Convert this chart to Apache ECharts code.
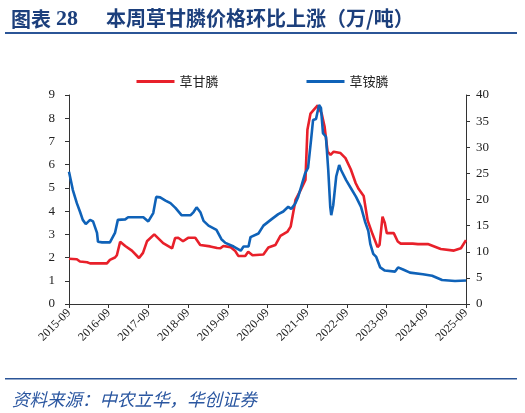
<!DOCTYPE html>
<html>
<head>
<meta charset="utf-8">
<script src="https://cdn.jsdelivr.net/npm/echarts@6/dist/echarts.min.js"></script>
<style>
html,body{margin:0;padding:0;background:#fff;}
#chart{width:525px;height:413px;}
</style>
</head>
<body>
<div id="chart"></div>
<script>
// ---- data ----
const xTickLabels = ['2015-09','2016-09','2017-09','2018-09','2019-09','2020-09','2021-09','2022-09','2023-09','2024-09','2025-09'];

// 草甘膦 (万/吨, left axis)
const glyDates = ['2015-09-01','2015-11-12','2015-12-10','2016-02-15','2016-03-12','2016-08-15','2016-09-12','2016-10-28','2016-11-15','2016-12-15','2017-02-01','2017-04-01','2017-06-06','2017-07-12','2017-08-18','2017-10-24','2018-01-15','2018-04-06','2018-05-03','2018-06-01','2018-07-15','2018-09-01','2018-11-06','2018-11-24','2018-12-21','2019-03-21','2019-05-24','2019-06-24','2019-07-21','2019-09-24','2019-11-09','2019-12-06','2020-02-09','2020-03-06','2020-04-15','2020-07-24','2020-09-09','2020-11-12','2020-12-28','2021-03-03','2021-04-01','2021-05-15','2021-07-01','2021-08-15','2021-09-03','2021-10-01','2021-10-28','2021-12-06','2022-01-12','2022-02-09','2022-02-27','2022-03-06','2022-04-03','2022-05-01','2022-07-03','2022-08-18','2022-10-06','2022-11-21','2022-12-18','2023-02-03','2023-03-09','2023-04-24','2023-06-09','2023-06-27','2023-07-24','2023-08-15','2023-09-03','2023-11-06','2023-12-12','2024-01-09','2024-04-28','2024-05-06','2024-06-15','2024-09-15','2025-01-12','2025-05-12','2025-07-15','2025-09-01'];
const glyValues = [1.95,1.93,1.83,1.80,1.75,1.75,1.90,2.00,2.10,2.68,2.50,2.30,1.98,2.20,2.70,3.00,2.62,2.40,2.84,2.85,2.70,2.85,2.85,2.82,2.54,2.48,2.41,2.40,2.50,2.45,2.28,2.07,2.07,2.25,2.10,2.13,2.43,2.54,2.93,3.12,3.33,4.48,4.90,5.34,7.50,8.20,8.35,8.55,8.20,7.63,7.60,6.56,6.42,6.56,6.50,6.28,5.80,5.20,4.95,4.65,3.60,3.00,2.45,2.55,3.76,3.49,3.05,3.05,2.69,2.60,2.60,2.68,2.58,2.58,2.37,2.30,2.40,2.75];

// 草铵膦 (万/吨, right axis)
const gluDates = ['2015-09-01','2015-10-06','2015-11-12','2015-12-10','2016-01-06','2016-02-03','2016-03-12','2016-04-09','2016-05-15','2016-05-24','2016-07-01','2016-09-12','2016-10-28','2016-11-24','2017-02-01','2017-02-27','2017-07-15','2017-08-30','2017-10-15','2017-11-12','2017-12-18','2018-02-06','2018-03-21','2018-05-06','2018-07-01','2018-09-24','2018-10-21','2018-11-18','2018-12-24','2019-01-21','2019-03-06','2019-05-18','2019-07-03','2019-08-09','2019-10-24','2019-12-28','2020-01-24','2020-03-09','2020-03-27','2020-06-09','2020-07-24','2020-10-06','2020-12-09','2021-01-24','2021-03-09','2021-04-06','2021-05-12','2021-06-09','2021-07-06','2021-08-12','2021-09-09','2021-10-06','2021-10-24','2021-11-21','2021-12-18','2022-01-06','2022-01-24','2022-02-21','2022-03-12','2022-03-30','2022-04-09','2022-04-27','2022-05-24','2022-06-21','2022-07-09','2022-08-24','2022-10-09','2022-11-24','2023-01-09','2023-02-15','2023-03-15','2023-04-03','2023-04-30','2023-05-27','2023-07-03','2023-08-15','2023-11-18','2023-12-15','2024-01-30','2024-04-03','2024-07-30','2024-10-24','2025-01-24','2025-05-21','2025-09-01'];
const gluValues = [25.3,21.8,19.3,17.7,16.1,15.3,16.1,15.8,13.6,11.9,11.8,11.8,13.6,16.1,16.2,16.6,16.6,15.8,17.4,20.5,20.4,19.8,19.3,18.4,17.0,17.0,17.6,18.5,17.5,15.9,15.0,14.2,12.4,11.7,11.0,10.2,11.0,11.0,12.8,13.5,15.0,16.2,17.2,17.7,18.6,18.2,19.2,20.5,22.4,25.0,26.1,31.4,35.2,35.4,38.1,37.5,32.7,32.0,25.6,18.6,17.0,18.9,24.4,26.6,25.6,23.7,22.1,20.5,18.6,15.8,14.0,11.5,9.6,9.0,7.0,6.4,6.2,7.0,6.6,6.0,5.7,5.4,4.6,4.4,4.5];

// ---- helpers ----
function monthIndex(s){
  const p = s.split('-').map(Number);
  return (p[0]-2015)*12 + (p[1]-9) + (p[2]-1)/30;
}
function pairs(dates, vals){ return dates.map((d,i)=>[monthIndex(d), vals[i]]); }

const serif = 'Liberation Serif, Times New Roman, serif';
const titleColor = '#1c3f7c';
const chart = echarts.init(document.getElementById('chart'), null, {renderer:'canvas'});
chart.setOption({
  animation:false,
  backgroundColor:'#fff',
  title:[
    {text:'{a|图表} {b|28}', left:6, top:3,
     textStyle:{rich:{
       a:{fontFamily:'Noto Sans CJK SC', fontWeight:'bold', fontSize:20, color:titleColor},
       b:{fontFamily:serif, fontWeight:'bold', fontSize:22, color:titleColor}
     }}},
    {text:'本周草甘膦价格环比上涨（万/吨）', left:101, top:3,
     textStyle:{fontFamily:'Noto Sans CJK SC', fontWeight:'bold', fontSize:20, color:titleColor}},
    {text:'资料来源：中农立华，华创证券', left:7, top:386,
     textStyle:{fontFamily:'Noto Sans CJK SC', fontStyle:'italic', fontWeight:'normal', fontSize:17.5, color:'#2a56a0'}}
  ],
  graphic:[
    {type:'rect', shape:{x:5, y:32, width:512, height:2}, style:{fill:'#2b5597'}, silent:true},
    {type:'rect', shape:{x:5, y:378, width:512, height:1.5}, style:{fill:'#2b5597'}, silent:true}
  ],
  legend:{
    top:70, left:'center', itemGap:88, itemWidth:38, itemHeight:3, icon:'rect',
    textStyle:{fontFamily:'Noto Sans CJK SC', fontSize:13, color:'#222'},
    data:['草甘膦','草铵膦']
  },
  grid:{left:69, right:59, top:95, bottom:109, containLabel:false},
  xAxis:{
    type:'value', min:0, max:120, interval:12,
    axisLine:{lineStyle:{color:'#333', width:1}},
    axisTick:{show:true, length:4, lineStyle:{color:'#333'}},
    splitLine:{show:false},
    axisLabel:{rotate:45, margin:7, fontFamily:serif, fontSize:12, color:'#222',
      formatter:function(v){ return xTickLabels[Math.round(v/12)] || ''; }}
  },
  yAxis:[
    {type:'value', min:0, max:9, interval:1, position:'left',
     axisLine:{show:true, lineStyle:{color:'#333'}},
     axisTick:{show:true, length:4, lineStyle:{color:'#333'}},
     splitLine:{show:false},
     axisLabel:{margin:14, fontFamily:serif, fontSize:13, color:'#222'}},
    {type:'value', min:0, max:40, interval:5, position:'right',
     axisLine:{show:true, lineStyle:{color:'#333'}},
     axisTick:{show:true, length:4, lineStyle:{color:'#333'}},
     splitLine:{show:false},
     axisLabel:{margin:10, fontFamily:serif, fontSize:13, color:'#222'}}
  ],
  series:[
    {name:'草甘膦', type:'line', yAxisIndex:0, symbol:'none', showSymbol:false,
     data:pairs(glyDates, glyValues), color:'#e8202a',
     lineStyle:{color:'#e8202a', width:2.6}},
    {name:'草铵膦', type:'line', yAxisIndex:1, symbol:'none', showSymbol:false,
     data:pairs(gluDates, gluValues), color:'#0f62b8',
     lineStyle:{color:'#0f62b8', width:2.6}}
  ]
});
</script>
</body>
</html>
